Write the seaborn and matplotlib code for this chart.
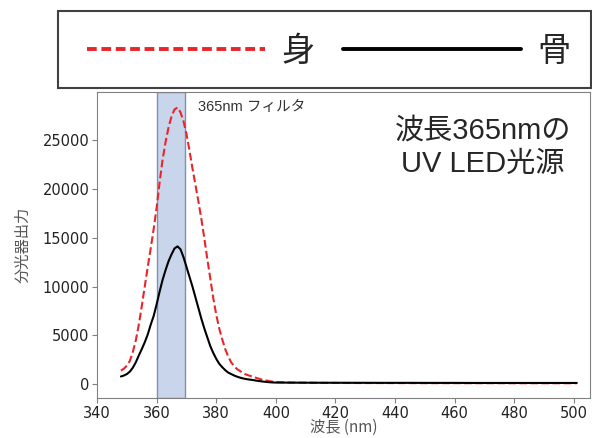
import matplotlib
matplotlib.use("Agg")
import matplotlib.pyplot as plt
import seaborn as sns
import pandas as pd
from matplotlib.lines import Line2D
from matplotlib.patches import Rectangle

# 波長 (nm)
wavelength = [348, 349, 350, 351, 352, 353, 354, 355, 356, 357,
              358, 359, 360, 361, 362, 363, 364, 365, 366, 367,
              368, 369, 370, 371, 372, 373, 374, 375, 376, 377,
              378, 379, 380, 381, 382, 383, 384, 385, 386, 387,
              388, 389, 390, 391, 392, 393, 394, 395, 396, 397,
              398, 399, 400,
              405, 410, 415, 420, 425, 430, 435, 440, 445, 450,
              455, 460, 465, 470, 475, 480, 485, 490, 495, 500, 501]

# 身 (red dashed)
body = [1400, 1600, 1900, 2400, 3300, 4500, 6100, 8000, 10000, 12000,
        13900, 15900, 18100, 20700, 23000, 24800, 26300, 27400, 28100, 28300,
        27800, 26900, 25600, 23900, 22100, 20400, 18700, 16900, 14900, 12800,
        10800, 8800, 7100, 5700, 4600, 3600, 2850, 2250, 1850, 1550,
        1350, 1150, 1000, 900, 800, 700, 600, 510, 440, 380,
        320, 270, 230,
        180, 160, 150, 140, 135, 130, 130, 125, 125, 120,
        120, 120, 115, 115, 115, 110, 110, 110, 110, 110, 110]

# 骨 (black solid)
bone = [800, 900, 1050, 1300, 1700, 2250, 2950, 3600, 4300, 5100,
        6100, 7000, 8200, 9500, 10700, 11700, 12600, 13300, 13900, 14100,
        13800, 13000, 12000, 11000, 10000, 8900, 7800, 6700, 5700, 4800,
        3900, 3200, 2600, 2100, 1750, 1450, 1200, 1050, 900, 780,
        680, 600, 540, 490, 450, 400, 350, 310, 270, 240,
        210, 190, 180,
        170, 165, 160, 160, 155, 155, 150, 150, 150, 145,
        145, 145, 140, 140, 140, 140, 140, 140, 140, 140, 140]

filter_band = (360, 369.5)
series_labels = ["身", "骨"]

df = pd.DataFrame({"wl": wavelength, "body": body, "bone": bone})

sns.set_style("ticks", {"axes.edgecolor": "#808080",
                        "xtick.color": "#808080", "ytick.color": "#808080"})
# tick labels in DejaVu only; the Japanese texts name their own families
plt.rcParams["font.family"] = ["DejaVu Sans"]
plt.rcParams["xtick.labelcolor"] = "#222222"
plt.rcParams["ytick.labelcolor"] = "#222222"

red = "#e8262a"
cjk = ["Noto Sans CJK JP", "DejaVu Sans"]
arial_like = ["Liberation Sans", "Noto Sans CJK JP"]

fig = plt.figure(figsize=(5.92, 4.38), dpi=100)
ax = fig.add_axes([0.164, 0.0913, 0.833, 0.699])

ax.axvspan(*filter_band, facecolor="#c9d5ea", edgecolor="#7b8fbf", lw=1)
sns.lineplot(data=df, x="wl", y="body", ax=ax, color=red, linestyle="--", lw=1.5)
sns.lineplot(data=df, x="wl", y="bone", ax=ax, color="black", lw=1.5)

ax.set_xlim(340, 505.5)
ax.set_ylim(-1400, 29900)
ax.set_xticks([340, 360, 380, 400, 420, 440, 460, 480, 500])
ax.set_yticks([0, 5000, 10000, 15000, 20000, 25000])
ax.tick_params(labelsize=10.5, length=3.5, pad=2)
ax.set_xlabel("波長 (nm)", fontsize=11, color="#555555", family=cjk)
ax.xaxis.label.set_va("center")
ax.xaxis.set_label_coords(0.5, -0.096)
ax.set_ylabel("分光器出力", fontsize=11, color="#555555", family=cjk, labelpad=8)

ax.text(373.8, 28300, "365nm フィルタ", fontsize=10.5, color="#333333",
        va="center", ha="left", family=arial_like)
fig.text(483 / 592, 1 - 147 / 438, "波長365nmの\nUV LED光源", ha="center",
         va="center", fontsize=21, linespacing=1.25, family=arial_like)

# legend box above the plot
handles = [Line2D([], [], color=red, ls=(0, (2.5, 1.2)), lw=2.8),
           Line2D([], [], color="black", lw=2.8)]
fig.legend(handles, series_labels, loc="center",
           bbox_to_anchor=(329 / 592, 1 - 51 / 438), ncol=2, frameon=False,
           prop={"family": cjk, "size": 24}, handlelength=5.34,
           handletextpad=0.5, columnspacing=0.84)
fig.add_artist(Rectangle((58 / 592, 1 - 88 / 438), (591 - 58) / 592, 77 / 438,
                         transform=fig.transFigure, fill=False,
                         edgecolor="#404040", lw=1.5))

fig.savefig("out.png", dpi=100)
